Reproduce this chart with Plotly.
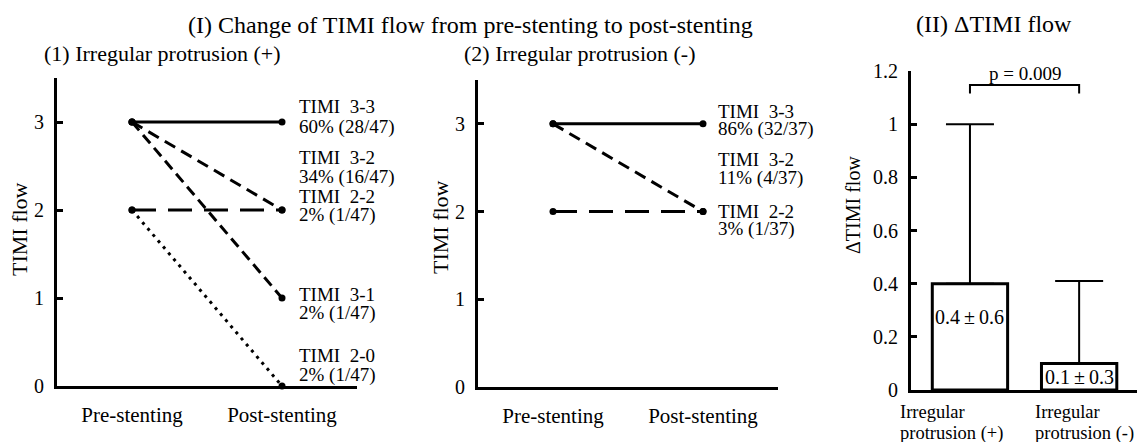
import plotly.graph_objects as go

# ---------------- data ----------------
stages = ["Pre-stenting", "Post-stenting"]

p1_codes = ["3-3", "3-2", "2-2", "3-1", "2-0"]
p1_pre = [3, 3, 2, 3, 2]
p1_post = [3, 2, 2, 1, 0]
p1_pct = ["60% (28/47)", "34% (16/47)", "2% (1/47)", "2% (1/47)", "2% (1/47)"]

p2_codes = ["3-3", "3-2", "2-2"]
p2_pre = [3, 3, 2]
p2_post = [3, 2, 2]
p2_pct = ["86% (32/37)", "11% (4/37)", "3% (1/37)"]

groups = ["Irregular protrusion (+)", "Irregular protrusion (-)"]
delta_mean = [0.4, 0.1]
delta_sd = [0.6, 0.3]
delta_err_drawn = [0.6, 0.31]
p_value = "p = 0.009"

# ---------------- styles ----------------
OFF = 8  # page body margin offset
W, H = 1145 - OFF, 442 - OFF
FONT = "Liberation Serif, Times New Roman, serif"
dash_styles = {
    "3-3": "solid",
    "3-2": "12px,7px",
    "2-2": "24px,12px",
    "3-1": "11px,6px",
    "2-0": "3px,5px",
}
width_styles = {"3-3": 3, "3-2": 3, "2-2": 3, "3-1": 3, "2-0": 3}


def fx(x):
    return (x - OFF) / W


def fy(y):
    return 1 - (y - OFF) / H


fig = go.Figure()


def add_lines(codes, pre, post, xa, ya):
    for c, a, b in zip(codes, pre, post):
        fig.add_trace(go.Scatter(
            x=[0, 1], y=[a, b], mode="lines",
            line=dict(color="black", width=width_styles[c], dash=dash_styles[c]),
            xaxis=xa, yaxis=ya, showlegend=False, hoverinfo="skip"))
        fig.add_trace(go.Scatter(
            x=[0, 1], y=[a, b], mode="markers",
            marker=dict(color="black", size=7),
            xaxis=xa, yaxis=ya, showlegend=False, hoverinfo="skip",
            cliponaxis=False))


add_lines(p1_codes, p1_pre, p1_post, "x", "y")
add_lines(p2_codes, p2_pre, p2_post, "x2", "y2")

# bars
fig.add_trace(go.Bar(
    x=[0, 1], y=delta_mean, width=0.69,
    marker=dict(color="white", line=dict(color="black", width=3)),
    error_y=dict(type="data", array=delta_err_drawn, arrayminus=[0, 0],
                 symmetric=False, thickness=2, width=24, color="black"),
    xaxis="x3", yaxis="y3", showlegend=False, hoverinfo="skip"))

# significance bracket
fig.add_trace(go.Scatter(
    x=[0, 0, 1, 1], y=[1.115, 1.147, 1.147, 1.115], mode="lines",
    line=dict(color="black", width=2), xaxis="x3", yaxis="y3",
    showlegend=False, hoverinfo="skip", cliponaxis=False))

annotations = []


def ann(text, x, y, size, xanchor="left", yanchor="middle", angle=0):
    annotations.append(dict(text=text, x=fx(x), y=fy(y), xref="paper", yref="paper",
                            xanchor=xanchor, yanchor=yanchor, showarrow=False,
                            textangle=angle,
                            font=dict(family=FONT, size=size, color="black")))


# titles
ann("(I) Change of TIMI flow from pre-stenting to post-stenting", 186, 25, 24)
ann("(1) Irregular protrusion (+)", 42, 54, 22)
ann("(2) Irregular protrusion (-)", 462, 54, 22)
ann("(II) \u0394TIMI flow", 914, 24, 24)

# y titles
ann("TIMI flow", 20, 229, 22, xanchor="center", angle=-90)
ann("TIMI flow", 440, 227, 22, xanchor="center", angle=-90)
ann("\u0394TIMI flow", 853, 205, 20, xanchor="center", angle=-90)

# line labels panel 1
p1_label_px = [(107, 127), (158, 177), (196, 215), (294, 313), (355, 375)]
for c, pct, (y1, y2) in zip(p1_codes, p1_pct, p1_label_px):
    ann("TIMI\u00a0\u00a0" + c, 297, y1, 19)
    ann(pct, 297, y2, 19)

# line labels panel 2
p2_label_px = [(111, 129), (159, 178), (211, 229)]
for c, pct, (y1, y2) in zip(p2_codes, p2_pct, p2_label_px):
    ann("TIMI\u00a0\u00a0" + c, 716, y1, 19)
    ann(pct, 716, y2, 19)

# bar value labels
bar_lbl_y = [0.273, 0.049]
for i, (m, s) in enumerate(zip(delta_mean, delta_sd)):
    annotations.append(dict(text=f"{m}\u2009\u00b1\u2009{s}", x=i, y=bar_lbl_y[i],
                            xref="x3", yref="y3", showarrow=False,
                            font=dict(family=FONT, size=20, color="black")))

# p value
annotations.append(dict(text=p_value, x=0.5, y=1.19, xref="x3", yref="y3",
                        showarrow=False, font=dict(family=FONT, size=19, color="black")))

# bar category labels
for g, xl in zip(groups, [898, 1033]):
    first, rest = g.split(" ", 1)
    ann(first, xl, 412, 18.5)
    ann(rest, xl, 433, 18.5)

fig.update_layout(annotations=annotations)

axis_common = dict(showline=True, linecolor="black", linewidth=3, showgrid=False,
                   zeroline=False, fixedrange=True, automargin=False,
                   tickfont=dict(family=FONT, size=20, color="black"))
xtickfont = dict(family=FONT, size=21, color="black")

yd1 = [fy(386), fy(78)]
yd2 = [fy(387), fy(80)]
yd3 = [fy(390), fy(71)]

fig.update_layout(
    template="none",
    width=W, height=H, margin=dict(l=0, r=0, t=0, b=0, pad=0, autoexpand=False),
    paper_bgcolor="white", plot_bgcolor="white", showlegend=False,
    font=dict(family=FONT, color="black"),
    xaxis=dict(domain=[fx(57), fx(357)], range=[-0.5, 1.5], anchor="y",
               tickvals=[0, 1], ticktext=stages, ticks="", ticklabelstandoff=8,
               **{**axis_common, "tickfont": xtickfont}),
    yaxis=dict(domain=yd1, range=[0, 3.5], anchor="x", tickvals=[0, 1, 2, 3],
               ticks="inside", ticklen=6, tickwidth=2.5, tickcolor="black",
               ticklabelstandoff=6, **axis_common),
    xaxis2=dict(domain=[fx(478), fx(778)], range=[-0.5, 1.5], anchor="y2",
                tickvals=[0, 1], ticktext=stages, ticks="", ticklabelstandoff=8,
                **{**axis_common, "tickfont": xtickfont}),
    yaxis2=dict(domain=yd2, range=[0, 3.5], anchor="x2", tickvals=[0, 1, 2, 3],
                ticks="inside", ticklen=6, tickwidth=2.5, tickcolor="black",
                ticklabelstandoff=6, **axis_common),
    xaxis3=dict(domain=[fx(911), fx(1137)], range=[-0.54, 1.53], anchor="y3",
                showticklabels=False, ticks="", **axis_common),
    yaxis3=dict(domain=yd3, range=[0, 1.2], anchor="x3",
                tickvals=[0, 0.2, 0.4, 0.6, 0.8, 1.0, 1.2],
                ticktext=["0", "0.2", "0.4", "0.6", "0.8", "1", "1.2"],
                ticks="inside", ticklen=6, tickwidth=2.5, tickcolor="black",
                ticklabelstandoff=6, **axis_common),
)

fig.write_html("out.html")
